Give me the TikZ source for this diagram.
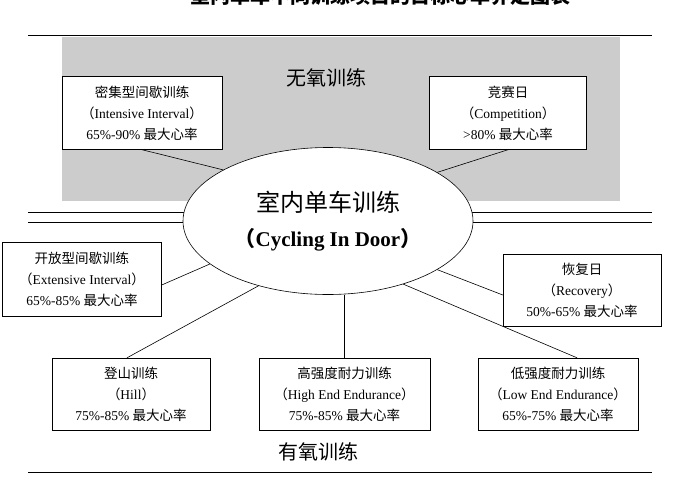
\documentclass[tikz,border=0pt]{standalone}
\usepackage{fontspec}
\setmainfont{Liberation Serif}
\newfontfamily\cjk{Noto Sans CJK SC}
\newcommand{\zh}[1]{{\cjk #1}}
\newcommand{\lp}{{\cjk （}}
\newcommand{\rp}{{\cjk ）}}
\usetikzlibrary{shapes.geometric,calc}
\begin{document}
\begin{tikzpicture}[x=1pt,y=-1pt,
  box/.style={draw,fill=white,minimum width=#1,minimum height=73pt,inner sep=1pt,align=center,font=\fontsize{13.5}{21}\selectfont},
  box/.default=158pt,
  rule/.style={line width=0.8pt},
  conn/.style={line width=0.6pt}]
\useasboundingbox (0,0) rectangle (691,477);
\fill[white] (0,0) rectangle (691,477);
\node[font=\fontsize{20}{20}\selectfont\bfseries] (title) at (380,-4) {\zh{室内单车不同训练项目的目标心率界定图表}};
\draw[rule] (28,35) coordinate (t1) -- (652,35) coordinate (t2);
\fill[black!20] (62,37) rectangle (620,201);
\draw[rule] (28,212) coordinate (d1) -- (652,212) coordinate (d2);
\draw[rule] (28,222) coordinate (d3) -- (652,222) coordinate (d4);
\draw[rule] (28,472) coordinate (b1l) -- (652,472) coordinate (b1r);
\node[font=\fontsize{20}{20}\selectfont] (anaer) at (326,78) {\zh{无氧训练}};
\node[font=\fontsize{20}{20}\selectfont] (aer) at (318,452) {\zh{有氧训练}};
\node[box=160pt] (b1) at (142,113) {\zh{密集型间歇训练}\\\lp Intensive Interval\rp\\65\%-90\% \zh{最大心率}};
\node[box=157pt] (b2) at (508,113) {\zh{竞赛日}\\\lp Competition\rp\\>80\% \zh{最大心率}};
\node[box=159pt,minimum height=74pt] (b3) at (82,279) {\zh{开放型间歇训练}\\\lp Extensive Interval\rp\\65\%-85\% \zh{最大心率}};
\node[box=158pt,minimum height=72pt] (b4) at (582,290) {\zh{恢复日}\\\lp Recovery\rp\\50\%-65\% \zh{最大心率}};
\node[box=158pt,minimum height=72pt] (b5) at (131,394) {\zh{登山训练}\\\lp Hill\rp\\75\%-85\% \zh{最大心率}};
\node[box=171pt,minimum height=72pt] (b6) at (344.5,394) {\zh{高强度耐力训练}\\\lp High End Endurance\rp\\75\%-85\% \zh{最大心率}};
\node[box=160pt,minimum height=72pt] (b7) at (558,394) {\zh{低强度耐力训练}\\\lp Low End Endurance\rp\\65\%-75\% \zh{最大心率}};
\node[draw,fill=white,ellipse,minimum width=290pt,minimum height=147pt,inner sep=0pt,align=center,line width=0.6pt] (ell) at (328,221)
  {{\fontsize{24}{24}\selectfont\zh{室内单车训练}}\\[14pt]{\fontsize{21}{21}\selectfont\bfseries \lp Cycling In Door\rp}};
\draw[conn] (b1.south) -- (ell.154);
\draw[conn] (b2.south) -- (ell.24);
\draw[conn] ($(b3.east)+(0,6)$) -- (ell.200);
\draw[conn] ($(b4.west)+(0,5)$) -- (ell.336);
\draw[conn] ($(b5.north)+(-4,0)$) -- (ell.223);
\draw[conn] (b6.north) -- (b6.north |- ell.south);
\draw[conn] ($(b7.north)+(19,0)$) -- (ell.320);
\end{tikzpicture}
\end{document}
